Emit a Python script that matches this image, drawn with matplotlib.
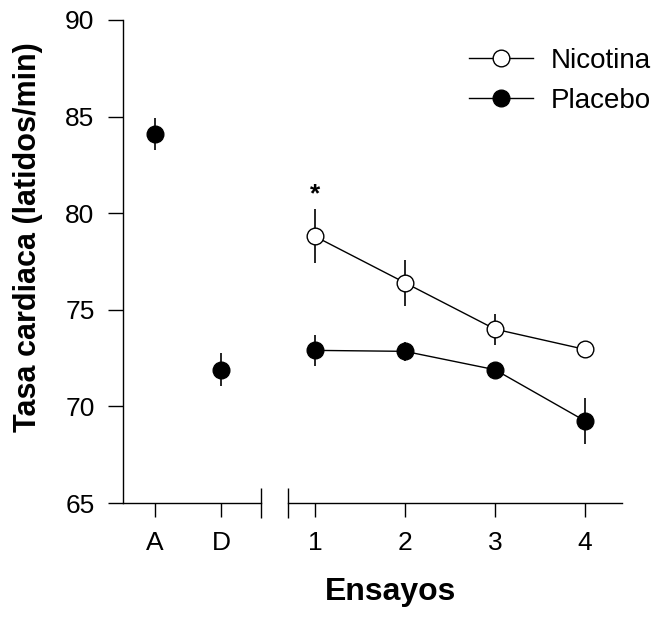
import numpy as np
import matplotlib
matplotlib.use('Agg')
import matplotlib.pyplot as plt

plt.rcParams['font.family'] = ['Liberation Sans', 'DejaVu Sans']

# Data
pre_labels = ['A', 'D']
pre_placebo = [84.1, 71.9]
pre_placebo_err = [0.85, 0.85]

trials = [1, 2, 3, 4]
nicotina = [78.8, 76.4, 74.0, 72.95]
nicotina_err = [1.4, 1.2, 0.8, 0.3]
placebo = [72.9, 72.85, 71.9, 69.25]
placebo_err = [0.8, 0.5, 0.35, 1.2]

fig = plt.figure(figsize=(6.56, 6.21), dpi=100)
ax1 = fig.add_axes([0.1875, 0.19, 0.2104, 0.7778])
ax2 = fig.add_axes([0.439, 0.19, 0.509, 0.7778], sharey=ax1)

ms = 12

# Left part: baseline points
x_pre = np.arange(len(pre_labels))
ax1.errorbar(x_pre, pre_placebo, yerr=pre_placebo_err, fmt='none', ecolor='black', elinewidth=1.2, zorder=1)
ax1.plot(x_pre, pre_placebo, 'o', color='black', markersize=ms, linestyle='none', zorder=3)
ax1.set_xlim(-0.485, 1.606)
ax1.set_xticks(x_pre)
ax1.set_xticklabels(pre_labels)
ax1.set_xticks([1.606], minor=True)

# Right part: trials
ax2.errorbar(trials, nicotina, yerr=nicotina_err, fmt='none', ecolor='black', elinewidth=1.2, zorder=1)
ax2.errorbar(trials, placebo, yerr=placebo_err, fmt='none', ecolor='black', elinewidth=1.2, zorder=1)
ax2.plot(trials, nicotina, '-o', color='black', markerfacecolor='white', markeredgecolor='black',
         markersize=ms, linewidth=1, label='Nicotina', zorder=3)
ax2.plot(trials, placebo, '-o', color='black', markersize=ms, linewidth=1, label='Placebo', zorder=3)
ax2.text(trials[0], 81.0, '*', ha='center', va='center', fontsize=19, fontweight='bold')
ax2.set_xlim(0.7, 4.41)
ax2.set_xticks(trials)
ax2.set_xticks([0.7], minor=True)

ax1.set_ylim(65, 90)
ax1.set_yticks([65, 70, 75, 80, 85, 90])

for ax in (ax1, ax2):
    ax.spines['top'].set_visible(False)
    ax.spines['right'].set_visible(False)
    ax.tick_params(axis='x', which='major', direction='out', length=10, width=1, labelsize=19, pad=10)
    ax.tick_params(axis='x', which='minor', direction='inout', length=21, width=1)
    ax.spines['bottom'].set_linewidth(1)
ax1.spines['left'].set_linewidth(1)
ax1.tick_params(axis='y', direction='out', length=10.5, width=1, labelsize=19, pad=10)
ax2.spines['left'].set_visible(False)
ax2.tick_params(axis='y', left=False, labelleft=False)

fig.text(0.042, 0.618, 'Tasa cardiaca (latidos/min)', rotation=90, ha='center', va='center',
         fontsize=22, fontweight='bold')
fig.text(0.595, 0.047, 'Ensayos', ha='center', va='center', fontsize=23, fontweight='bold')

leg = ax2.legend(loc='upper left', bbox_to_anchor=(0.715, 0.923), bbox_transform=fig.transFigure,
                 frameon=False, fontsize=20, handlelength=2.3, handletextpad=0.65, labelspacing=0.51,
                 borderaxespad=0, borderpad=0)

fig.savefig('out.png', dpi=100)
